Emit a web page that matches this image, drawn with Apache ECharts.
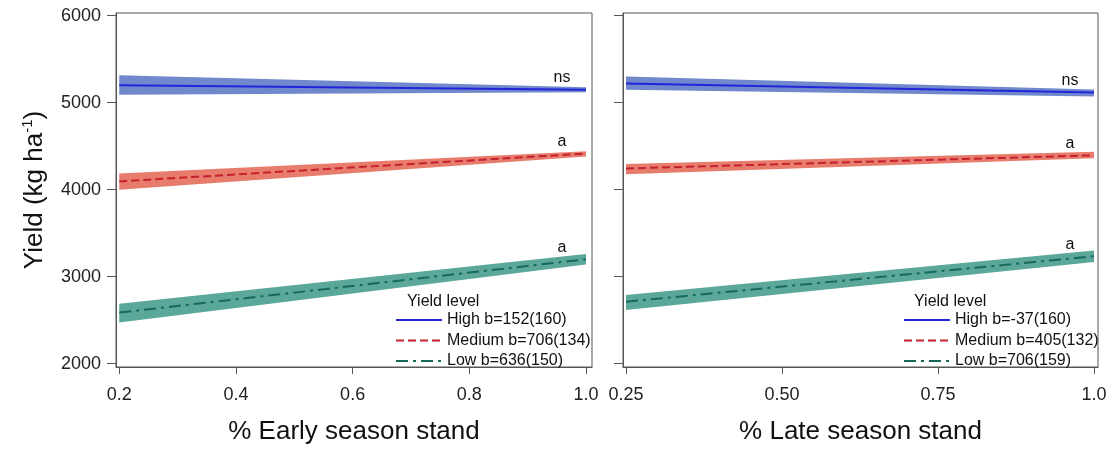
<!DOCTYPE html>
<html>
<head>
<meta charset="utf-8">
<script src="https://cdn.jsdelivr.net/npm/echarts@6/dist/echarts.min.js"></script>
<style>
  html, body { margin: 0; padding: 0; background: #fff; }
  #chart { width: 1112px; height: 450px; }
</style>
</head>
<body>
<div id="chart"></div>
<script>
// x values where fitted lines start and end
const xEarly = [0.2, 1.0];
const xLate = [0.25, 1.0];

// early season stand: fitted line, lower and upper band
const earlyHigh = [5200, 5148], earlyHighLo = [5090, 5120], earlyHighHi = [5315, 5176];
const earlyMed = [4095, 4415], earlyMedLo = [4000, 4380], earlyMedHi = [4185, 4442];
const earlyLow = [2587, 3200], earlyLowLo = [2474, 3140], earlyLowHi = [2690, 3260];

// late season stand
const lateHigh = [5220, 5115], lateHighLo = [5148, 5070], lateHighHi = [5300, 5150];
const lateMed = [4243, 4395], lateMedLo = [4178, 4360], lateMedHi = [4295, 4436];
const lateLow = [2712, 3235], lateLowLo = [2618, 3170], lateLowHi = [2790, 3300];

const earlyNames = ['High b=152(160)', 'Medium b=706(134)', 'Low b=636(150)'];
const lateNames = ['High b=-37(160)', 'Medium b=405(132)', 'Low b=706(159)'];
const sigEarly = ['ns', 'a', 'a'];
const sigLate = ['ns', 'a', 'a'];

const yTicks = [2000, 3000, 4000, 5000, 6000];
const xTicksEarly = [0.2, 0.4, 0.6, 0.8, 1.0];
const xTicksLate = [0.25, 0.5, 0.75, 1.0];

const font = "'Liberation Sans', Arial, sans-serif";
const lineColors = ['#2424d8', '#c4202e', '#17695b'];
const bandColors = ['#7089cd', '#e87c6c', '#5ba89b'];
const dashTypes = ['solid', [8, 4], [12, 5, 3, 5]];

let chart = echarts.init(document.getElementById('chart'));

function pairs(xs, ys) {
    return xs.map((x, i) => [x, ys[i]]);
}

let series = [];
function addGroup(gi, xs, mids, los, his, names, sigs) {
    for (let k = 0; k < 3; k++) {
        let lo = los[k], hi = his[k], color = bandColors[k];
        // band drawn as one polygon through the axis scales
        series.push({
            type: 'custom', xAxisIndex: gi, yAxisIndex: gi, z: 1, silent: true,
            data: xs.map((x, i) => [x, lo[i], hi[i]]),
            renderItem: function (params, api) {
                if (params.dataIndex !== 0) return null;
                let pts = [];
                for (let i = 0; i < xs.length; i++) pts.push(api.coord([xs[i], hi[i]]));
                for (let i = xs.length - 1; i >= 0; i--) pts.push(api.coord([xs[i], lo[i]]));
                return {type: 'polygon', shape: {points: pts}, style: {fill: color}};
            }
        });
    }
    for (let k = 0; k < 3; k++) {
        let last = xs.length - 1;
        series.push({
            name: names[k], type: 'line', xAxisIndex: gi, yAxisIndex: gi,
            data: pairs(xs, mids[k]), symbol: 'none', z: 3,
            color: lineColors[k],
            lineStyle: {color: lineColors[k], width: 2, type: dashTypes[k]},
            markPoint: {
                symbol: 'circle', symbolSize: 0, silent: true,
                data: [{coord: [xs[last], mids[k][last]], value: sigs[k]}],
                label: {
                    show: true, position: 'top', formatter: '{c}', offset: [-24, 1],
                    fontFamily: font, fontSize: 16, color: '#111'
                }
            }
        });
    }
}
addGroup(0, xEarly, [earlyHigh, earlyMed, earlyLow], [earlyHighLo, earlyMedLo, earlyLowLo],
    [earlyHighHi, earlyMedHi, earlyLowHi], earlyNames, sigEarly);
addGroup(1, xLate, [lateHigh, lateMed, lateLow], [lateHighLo, lateMedLo, lateLowLo],
    [lateHighHi, lateMedHi, lateLowHi], lateNames, sigLate);

function xAxisFor(gi, min, max, ticks, title, fmt) {
    return {
        type: 'value', gridIndex: gi, min: min, max: max,
        name: title, nameLocation: 'middle', nameGap: 52,
        nameTextStyle: {fontFamily: font, fontSize: 26, color: '#111'},
        axisLine: {show: true, lineStyle: {color: '#555', width: 1}},
        axisTick: {show: true, length: 7, customValues: ticks, lineStyle: {color: '#555'}},
        axisLabel: {customValues: ticks, margin: 19, fontFamily: font, fontSize: 18, color: '#222', formatter: fmt},
        splitLine: {show: false}
    };
}

function yAxisFor(gi, showLabels) {
    return {
        type: 'value', gridIndex: gi, min: 1962, max: 6030,
        name: showLabels ? 'Yield (kg ha{sup|-1})' : '', nameLocation: 'middle', nameGap: 67,
        nameTextStyle: {
            fontFamily: font, fontSize: 26, color: '#111',
            rich: {sup: {fontFamily: font, fontSize: 15, color: '#111', verticalAlign: 'top', padding: [0, 0, 14, 0]}}
        },
        axisLine: {show: true, lineStyle: {color: '#555', width: 1}},
        axisTick: {show: true, length: 9, customValues: yTicks, lineStyle: {color: '#555'}},
        axisLabel: {show: showLabels, customValues: yTicks, margin: 15, fontFamily: font, fontSize: 18, color: '#222',
            formatter: v => String(v)},
        splitLine: {show: false}
    };
}

function legendFor(left, names) {
    return {
        orient: 'vertical', left: left, top: 307, data: names,
        itemWidth: 46, itemHeight: 14, itemGap: 4.5,
        itemStyle: {opacity: 0},
        textStyle: {fontFamily: font, fontSize: 16, color: '#111'},
        selectedMode: false
    };
}

let option = {
    animation: false,
    backgroundColor: '#fff',
    title: [
        {text: 'Yield level', left: 407, top: 294, textStyle: {fontFamily: font, fontSize: 16, fontWeight: 'normal', color: '#111'}, padding: 0},
        {text: 'Yield level', left: 914, top: 294, textStyle: {fontFamily: font, fontSize: 16, fontWeight: 'normal', color: '#111'}, padding: 0}
    ],
    grid: [
        {left: 116, top: 13, width: 476, height: 358, show: true, borderColor: '#555', borderWidth: 1, backgroundColor: 'transparent'},
        {left: 623, top: 13, width: 475, height: 358, show: true, borderColor: '#555', borderWidth: 1, backgroundColor: 'transparent'}
    ],
    legend: [legendFor(390, earlyNames), legendFor(898, lateNames)],
    xAxis: [
        xAxisFor(0, 0.1944, 1.0103, xTicksEarly, '% Early season stand', v => v.toFixed(1)),
        xAxisFor(1, 0.2452, 1.0064, xTicksLate, '% Late season stand', v => (v === 1 ? '1.0' : v.toFixed(2)))
    ],
    yAxis: [yAxisFor(0, true), yAxisFor(1, false)],
    series: series
};

chart.setOption(option);
</script>
</body>
</html>
